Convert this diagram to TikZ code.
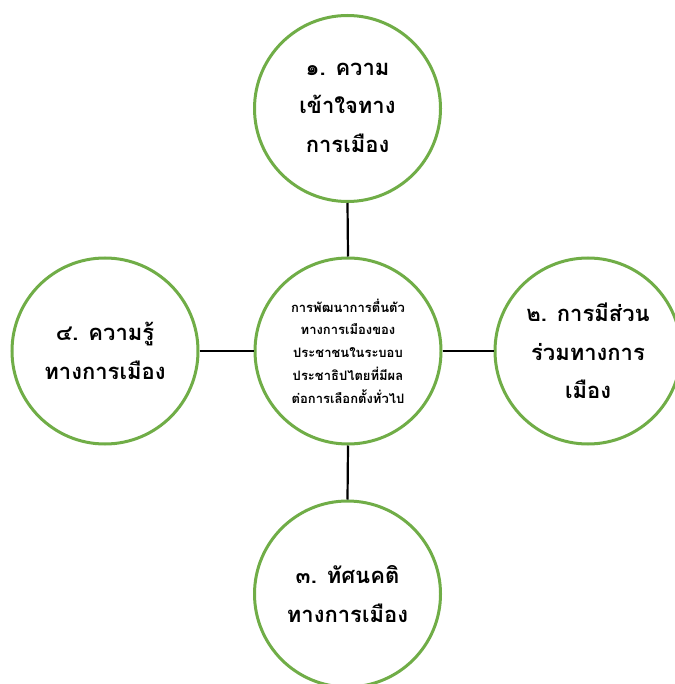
\documentclass[tikz,border=0pt]{standalone}
\usepackage{fontspec}
\newfontfamily\thaifont[Script=Thai]{Loma}
\definecolor{cgreen}{RGB}{112,173,71}
\begin{document}
\begin{tikzpicture}[x=1pt,y=-1pt,
  circ/.style={circle,draw=cgreen,line width=3pt,minimum size=186pt,inner sep=0pt,fill=white},
  outer/.style={font=\thaifont\bfseries\fontsize{22}{38.5}\selectfont,align=center},
  inner/.style={font=\thaifont\bfseries\fontsize{13}{22.8}\selectfont,align=center},
  link/.style={line width=2.2pt,black}]
\useasboundingbox (0,0) rectangle (674,684);
\node[circ] (c) at (348,351) {};
\node[circ] (t) at (347.5,108.5) {};
\node[circ] (r) at (588,351) {};
\node[circ] (b) at (347.5,594) {};
\node[circ] (l) at (105,351) {};
\draw[link] (t.south) -- (c.north);
\draw[link] (c.south) -- (b.north);
\draw[link] (l.east) -- (c.west);
\draw[link] (c.east) -- (r.west);
\node[inner] at (c) {การพัฒนาการตื่นตัว\\ทางการเมืองของ\\ประชาชนในระบอบ\\ประชาธิปไตยที่มีผล\\ต่อการเลือกตั้งทั่วไป};
\node[outer] at ([yshift=1pt]t) {๑. ความ\\เข้าใจทาง\\การเมือง};
\node[outer] at (r) {๒. การมีส่วน\\ร่วมทางการ\\เมือง};
\node[outer] at (b) {๓. ทัศนคติ\\ทางการเมือง};
\node[outer] at (l) {๔. ความรู้\\ทางการเมือง};
\end{tikzpicture}
\end{document}
